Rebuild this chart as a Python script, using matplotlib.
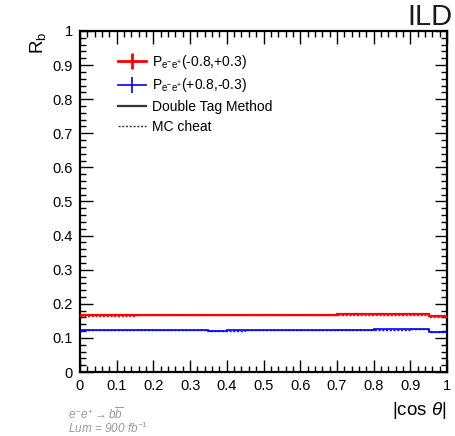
import numpy as np
import matplotlib
matplotlib.use("Agg")
import matplotlib.pyplot as plt
from matplotlib.lines import Line2D
from matplotlib.ticker import MultipleLocator

plt.rcParams["font.family"] = ["Liberation Sans", "DejaVu Sans"]
plt.rcParams["mathtext.fontset"] = "custom"
plt.rcParams["mathtext.rm"] = "Liberation Sans"
plt.rcParams["mathtext.it"] = "Liberation Sans:italic"
plt.rcParams["mathtext.bf"] = "Liberation Sans:bold"

# |cos theta| bin edges (20 bins of 0.05)
bin_edges = np.round(np.arange(0.0, 1.0001, 0.05), 2)

# R_b per bin, P(-0.8,+0.3)
rb_left_dt = [0.167, 0.167, 0.167, 0.168, 0.168, 0.168, 0.168, 0.168, 0.168, 0.168,
              0.168, 0.168, 0.168, 0.168, 0.169, 0.169, 0.170, 0.170, 0.170, 0.164]
rb_left_mc = [0.165, 0.165, 0.165, 0.166, 0.166, 0.166, 0.166, 0.166, 0.166, 0.166,
              0.166, 0.166, 0.166, 0.166, 0.167, 0.167, 0.168, 0.168, 0.168, 0.162]
rb_left_err = [0.002] * 20

# R_b per bin, P(+0.8,-0.3)
rb_right_dt = [0.123, 0.123, 0.123, 0.124, 0.123, 0.123, 0.123, 0.121, 0.122, 0.123,
               0.123, 0.123, 0.123, 0.123, 0.124, 0.124, 0.125, 0.125, 0.126, 0.118]
rb_right_mc = [0.122, 0.122, 0.122, 0.123, 0.122, 0.122, 0.122, 0.121, 0.121, 0.122,
               0.122, 0.122, 0.122, 0.122, 0.123, 0.123, 0.124, 0.124, 0.125, 0.117]
rb_right_err = [0.0015] * 20

W, H = 455, 436
fig = plt.figure(figsize=(W / 100, H / 100), dpi=100)
ax = fig.add_axes([80 / W, (H - 372) / H, (447 - 80) / W, (372 - 31) / H])


def draw_hist(vals, errs, color, ls, lw, band):
    vals = np.asarray(vals)
    errs = np.asarray(errs)
    centers = 0.5 * (bin_edges[:-1] + bin_edges[1:])
    if band:
        ax.bar(centers, 2 * errs, width=0.05, bottom=vals - errs,
               color=color, alpha=0.25, lw=0, zorder=2)
    ax.stairs(vals, bin_edges, color=color, ls=ls, lw=lw, zorder=3, baseline=None)


draw_hist(rb_left_mc, rb_left_err, "#ff0000", (0, (1.5, 1.2)), 1.0, False)
draw_hist(rb_left_dt, rb_left_err, "#ff0000", "-", 1.6, True)
draw_hist(rb_right_mc, rb_right_err, "#0000ff", (0, (1.5, 1.2)), 1.0, False)
draw_hist(rb_right_dt, rb_right_err, "#0000ff", "-", 1.2, True)

ax.set_xlim(0, 1)
ax.set_ylim(0, 1)
ax.xaxis.set_major_locator(MultipleLocator(0.1))
ax.xaxis.set_minor_locator(MultipleLocator(0.02))
ax.yaxis.set_major_locator(MultipleLocator(0.1))
ax.yaxis.set_minor_locator(MultipleLocator(0.02))
ax.xaxis.set_major_formatter(plt.FuncFormatter(lambda v, p: f"{v:g}"))
ax.yaxis.set_major_formatter(plt.FuncFormatter(lambda v, p: f"{v:g}"))
ax.tick_params(which="both", direction="in", top=True, right=True,
               labelsize=10.5, colors="black", width=1.0)
ax.tick_params(which="major", length=9, pad=5)
ax.tick_params(which="minor", length=4.5)
for s in ax.spines.values():
    s.set_linewidth(1.6)

fig.text(447 / W, 1 - 410 / H, r"|cos $\theta$|", ha="right", va="center", fontsize=13.5)
fig.text(38 / W, 1 - 43 / H, r"R$_{\mathregular{b}}$", rotation=90, ha="center",
         va="center", fontsize=13.5)
fig.text(452 / W, 1 - 17 / H, "ILD", ha="right", va="center", fontsize=21,
         color="#1a1a1a")

fig.text(68 / W, 1 - 414 / H, r"$e^{-}e^{+} \rightarrow b\overline{b}$",
         ha="left", va="center", fontsize=8.5, color="#999999")
fig.text(68 / W, 1 - 428 / H, r"Lum = 900 fb$^{-1}$", ha="left", va="center",
         fontsize=8.5, color="#999999", style="italic")

handles = [
    Line2D([], [], color="#ff0000", lw=2, marker="|", markersize=11, mew=2),
    Line2D([], [], color="#0000ff", lw=1.2, marker="|", markersize=11, mew=1.2),
    Line2D([], [], color="#333333", lw=1.6),
    Line2D([], [], color="#333333", lw=1.0, ls=(0, (1.5, 1.2))),
]
labels = [
    r"P$_{\mathregular{e^{-}e^{+}}}$(-0.8,+0.3)",
    r"P$_{\mathregular{e^{-}e^{+}}}$(+0.8,-0.3)",
    "Double Tag Method",
    "MC cheat",
]
ax.legend(handles, labels, loc="upper left", bbox_to_anchor=(111 / W, 1 - 46 / H),
          bbox_transform=fig.transFigure, frameon=False, fontsize=10,
          handlelength=2.0, handletextpad=0.45, labelspacing=0.4, borderpad=0,
          numpoints=1)

fig.savefig("out.png", dpi=100)
